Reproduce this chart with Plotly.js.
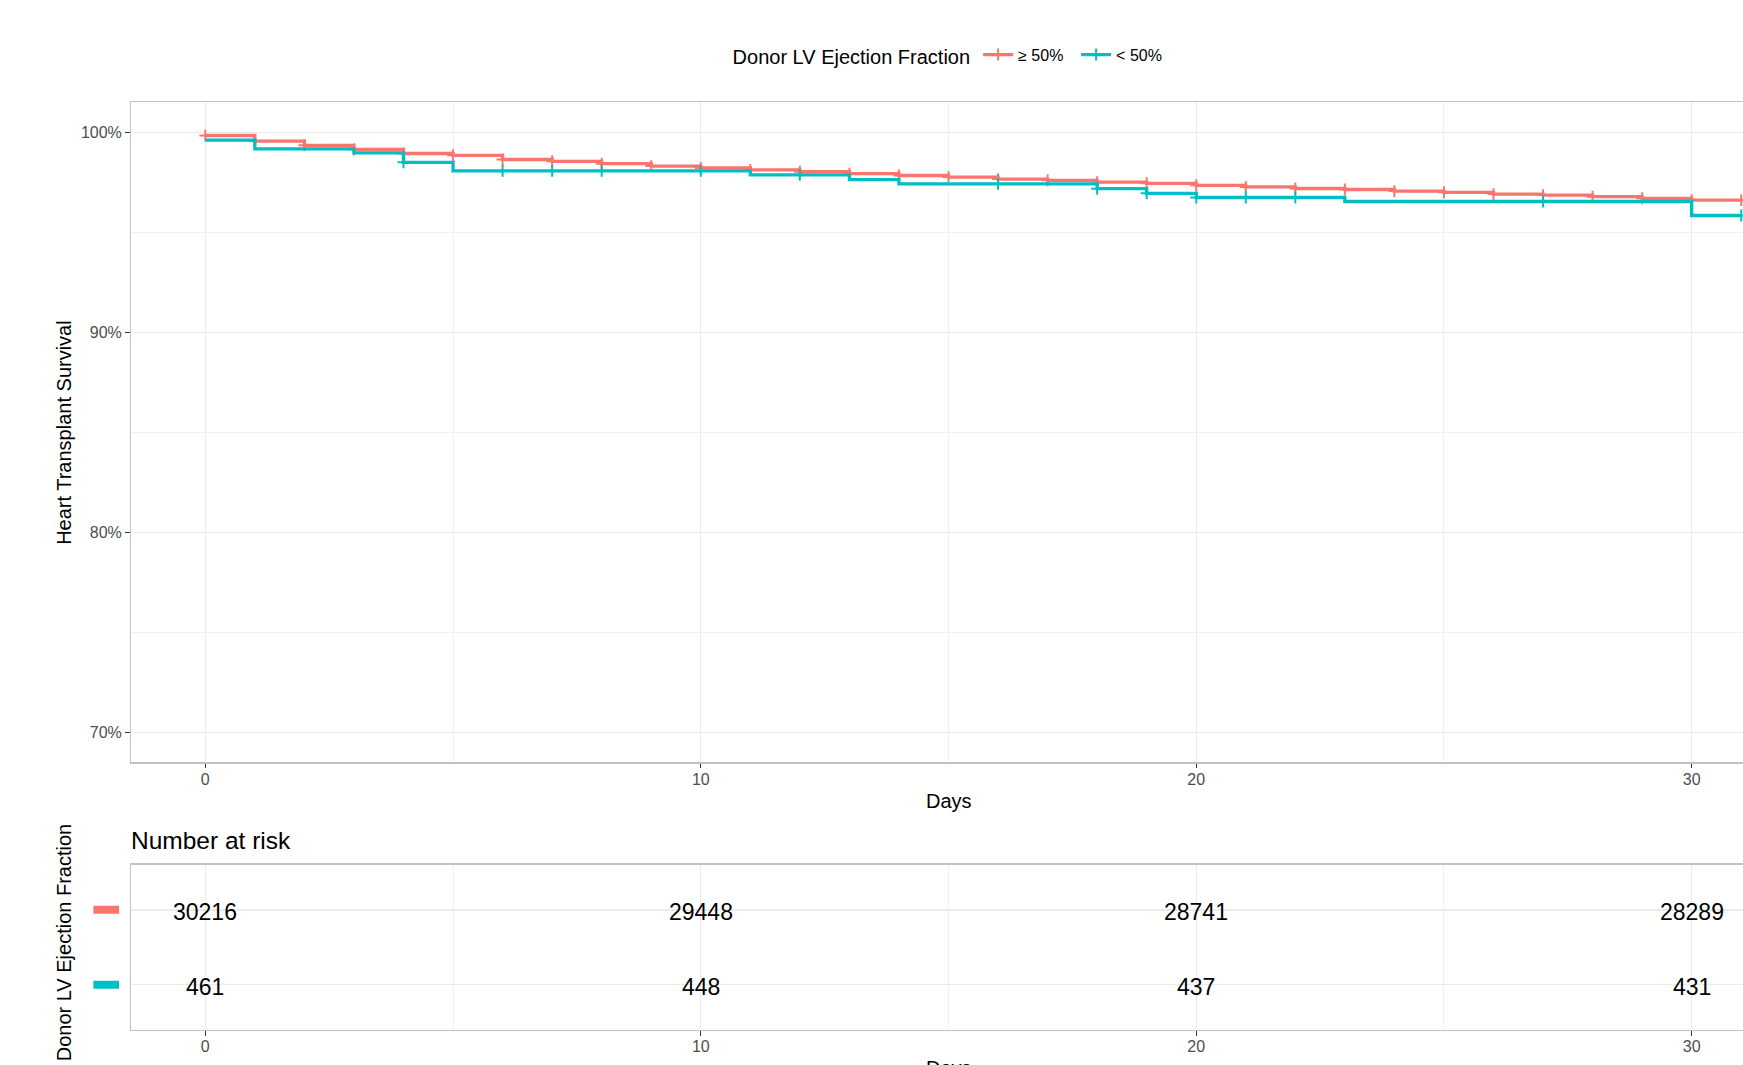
<!DOCTYPE html>
<html>
<head>
<meta charset="utf-8">
<script src="https://cdn.plot.ly/plotly-3.0.1.min.js"></script>
<style>
html,body{margin:0;padding:0;overflow:hidden;background:#ffffff;}
#chart{width:1800px;height:1100px;}
</style>
</head>
<body>
<div id="chart"></div>
<script>
// ---- data ----
const groupNames = ["≥ 50%", "< 50%"];
const groupColors = ["#F8766D", "#00BFC4"];
const legendTitle = "Donor LV Ejection Fraction";

const days = [0,1,2,3,4,5,6,7,8,9,10,11,12,13,14,15,16,17,18,19,20,21,22,23,24,25,26,27,28,29,30,31];
const survHigh = [0.9984,0.9956,0.9935,0.9914,0.9894,0.9885,0.9864,0.9855,0.9843,0.9831,0.9822,0.9812,0.9803,0.9793,0.9784,0.9776,0.9766,0.9760,0.9751,0.9745,0.9735,0.9727,0.9719,0.9714,0.9706,0.9700,0.9691,0.9686,0.9678,0.9670,0.9661,0.9661];
const survLow  = [0.9961,0.9917,0.9917,0.9897,0.9850,0.9807,0.9807,0.9807,0.9807,0.9807,0.9807,0.9787,0.9787,0.9763,0.9742,0.9742,0.9742,0.9742,0.9718,0.9695,0.9674,0.9674,0.9674,0.9654,0.9654,0.9654,0.9654,0.9654,0.9654,0.9654,0.9584,0.9584];
const censorHigh = [0,1,2,3,4,5,6,7,8,9,10,11,12,13,14,15,16,17,18,19,20,21,22,23,24,25,26,27,28,29,30,31];
const censorLow  = [4,6,7,8,10,12,16,18,19,20,21,22,27,31];

const riskDays = [0,10,20,30];
const riskHigh = [30216,29448,28741,28289];
const riskLow  = [461,448,437,431];

const xTicks = [0,10,20,30];
const xMinor = [5,15,25];
const yTicks = [0.7,0.8,0.9,1.0];
const yMinor = [0.75,0.85,0.95];

// ---- styling ----
const FONT = '"Liberation Sans", Arial, Helvetica, sans-serif';
const BORDER = "#C2C2C2";
const GRID = "#EBEBEB";
const TICKC = "#333333";
const TICKLAB = "#4D4D4D";

function censorIdx(list){
  const out = [];
  days.forEach((d,i)=>{ if(list.indexOf(d) >= 0) out.push(i); });
  return out;
}

const survSeries = [survHigh, survLow];
const censorSeries = [censorHigh, censorLow];
const riskSeries = [riskHigh, riskLow];

const traces = [];
survSeries.forEach((s, g) => {
  traces.push({
    type: 'scatter', mode: 'lines+markers', name: groupNames[g],
    x: days, y: s, xaxis: 'x', yaxis: 'y',
    line: {shape: 'hv', width: 3.3, color: groupColors[g]},
    marker: {symbol: 'cross-thin-open', size: 8.5, color: groupColors[g], line: {width: 2, color: groupColors[g]}},
    selectedpoints: censorIdx(censorSeries[g]),
    selected: {marker: {opacity: 1}},
    unselected: {marker: {opacity: 0}},
    hoverinfo: 'skip', legendgroup: 'g' + g
  });
});

const commonX = {
  range: [-1.5, 31.5], tickmode: 'array', tickvals: xTicks, ticktext: xTicks.map(String),
  showgrid: true, gridcolor: GRID, gridwidth: 1.4,
  minor: {tickmode: 'array', tickvals: xMinor, showgrid: true, gridcolor: GRID, gridwidth: 0.7, ticks: ''},
  zeroline: false, showline: true, mirror: true, linecolor: BORDER, linewidth: 1.5,
  ticks: 'outside', ticklen: 4.5, tickwidth: 1.1, tickcolor: TICKC, ticklabelstandoff: -3,
  tickfont: {family: FONT, size: 16, color: TICKLAB}, fixedrange: true
};

const shapes = groupNames.map((n, g) => ({
  type: 'rect', xref: 'paper', yref: 'y2',
  x0: -0.0230, x1: -0.0073,
  y0: (g === 0 ? 1 : 0) - 0.0535, y1: (g === 0 ? 1 : 0) + 0.0535,
  fillcolor: groupColors[g], line: {width: 0}
}));

const annotations = [
  {text: 'Heart Transplant Survival', xref: 'paper', yref: 'paper', x: -0.0407, y: 0.6069,
   xanchor: 'center', yanchor: 'middle', textangle: -90, showarrow: false, font: {family: FONT, size: 20, color: '#000'}},
  {text: 'Days', xref: 'paper', yref: 'paper', x: 0.5, y: 0.2721,
   xanchor: 'center', yanchor: 'middle', showarrow: false, font: {family: FONT, size: 20, color: '#000'}},
  {text: 'Number at risk', xref: 'paper', yref: 'paper', x: -0.0015, y: 0.2355,
   xanchor: 'left', yanchor: 'middle', showarrow: false, font: {family: FONT, size: 24.5, color: '#000'}},
  {text: legendTitle, xref: 'paper', yref: 'paper', x: -0.0413, y: 0.1438,
   xanchor: 'center', yanchor: 'middle', textangle: -90, showarrow: false, font: {family: FONT, size: 20, color: '#000'}},
  {text: 'Days', xref: 'paper', yref: 'paper', x: 0.5, y: 0.0294,
   xanchor: 'center', yanchor: 'middle', showarrow: false, font: {family: FONT, size: 20, color: '#000'}}
];
// number-at-risk cells, placed through the table axes
riskSeries.forEach((r, g) => {
  riskDays.forEach((d, i) => {
    annotations.push({
      text: String(r[i]), xref: 'x2', yref: 'y2', x: d, y: groupNames[g],
      xanchor: 'center', yanchor: 'middle', yshift: -2, showarrow: false,
      font: {family: FONT, size: 23, color: '#000000'}
    });
  });
});

const layout = {
  width: 1800, height: 1100,
  margin: {l: 131, r: 34, t: 0, b: 0, pad: 0},
  paper_bgcolor: '#ffffff', plot_bgcolor: '#ffffff',
  font: {family: FONT, color: '#000000'},
  showlegend: true,
  legend: {
    orientation: 'h', x: 0.5025, xanchor: 'center', y: 0.9494, yanchor: 'middle',
    title: {text: legendTitle, side: 'left', font: {family: FONT, size: 20, color: '#000000'}},
    font: {family: FONT, size: 16, color: '#000000'},
    entrywidth: 53, entrywidthmode: 'pixels',
    bgcolor: 'rgba(0,0,0,0)', traceorder: 'normal'
  },
  xaxis: Object.assign({}, commonX, {domain: [0, 1], anchor: 'y'}),
  yaxis: {
    domain: [0.30691, 0.90700], anchor: 'x', range: [0.685, 1.015],
    tickmode: 'array', tickvals: yTicks, tickformat: '.0%',
    showgrid: true, gridcolor: GRID, gridwidth: 1.4,
    minor: {tickmode: 'array', tickvals: yMinor, showgrid: true, gridcolor: GRID, gridwidth: 0.7, ticks: ''},
    zeroline: false, showline: true, mirror: true, linecolor: BORDER, linewidth: 1.5,
    ticks: 'outside', ticklen: 4.5, tickwidth: 1.1, tickcolor: TICKC,
    tickfont: {family: FONT, size: 16, color: TICKLAB}, fixedrange: true
  },
  xaxis2: Object.assign({}, commonX, {domain: [0, 1], anchor: 'y2'}),
  yaxis2: {
    domain: [0.06409, 0.21364], anchor: 'x2', type: 'category',
    categoryorder: 'array', categoryarray: [groupNames[1], groupNames[0]],
    range: [-0.6, 1.6], showticklabels: false, ticks: '',
    showgrid: true, gridcolor: GRID, gridwidth: 1.4,
    zeroline: false, showline: true, mirror: true, linecolor: BORDER, linewidth: 1.5, fixedrange: true
  },
  shapes: shapes,
  annotations: annotations
};

Plotly.newPlot('chart', traces, layout, {displayModeBar: false, responsive: false, staticPlot: true});
</script>
</body>
</html>
